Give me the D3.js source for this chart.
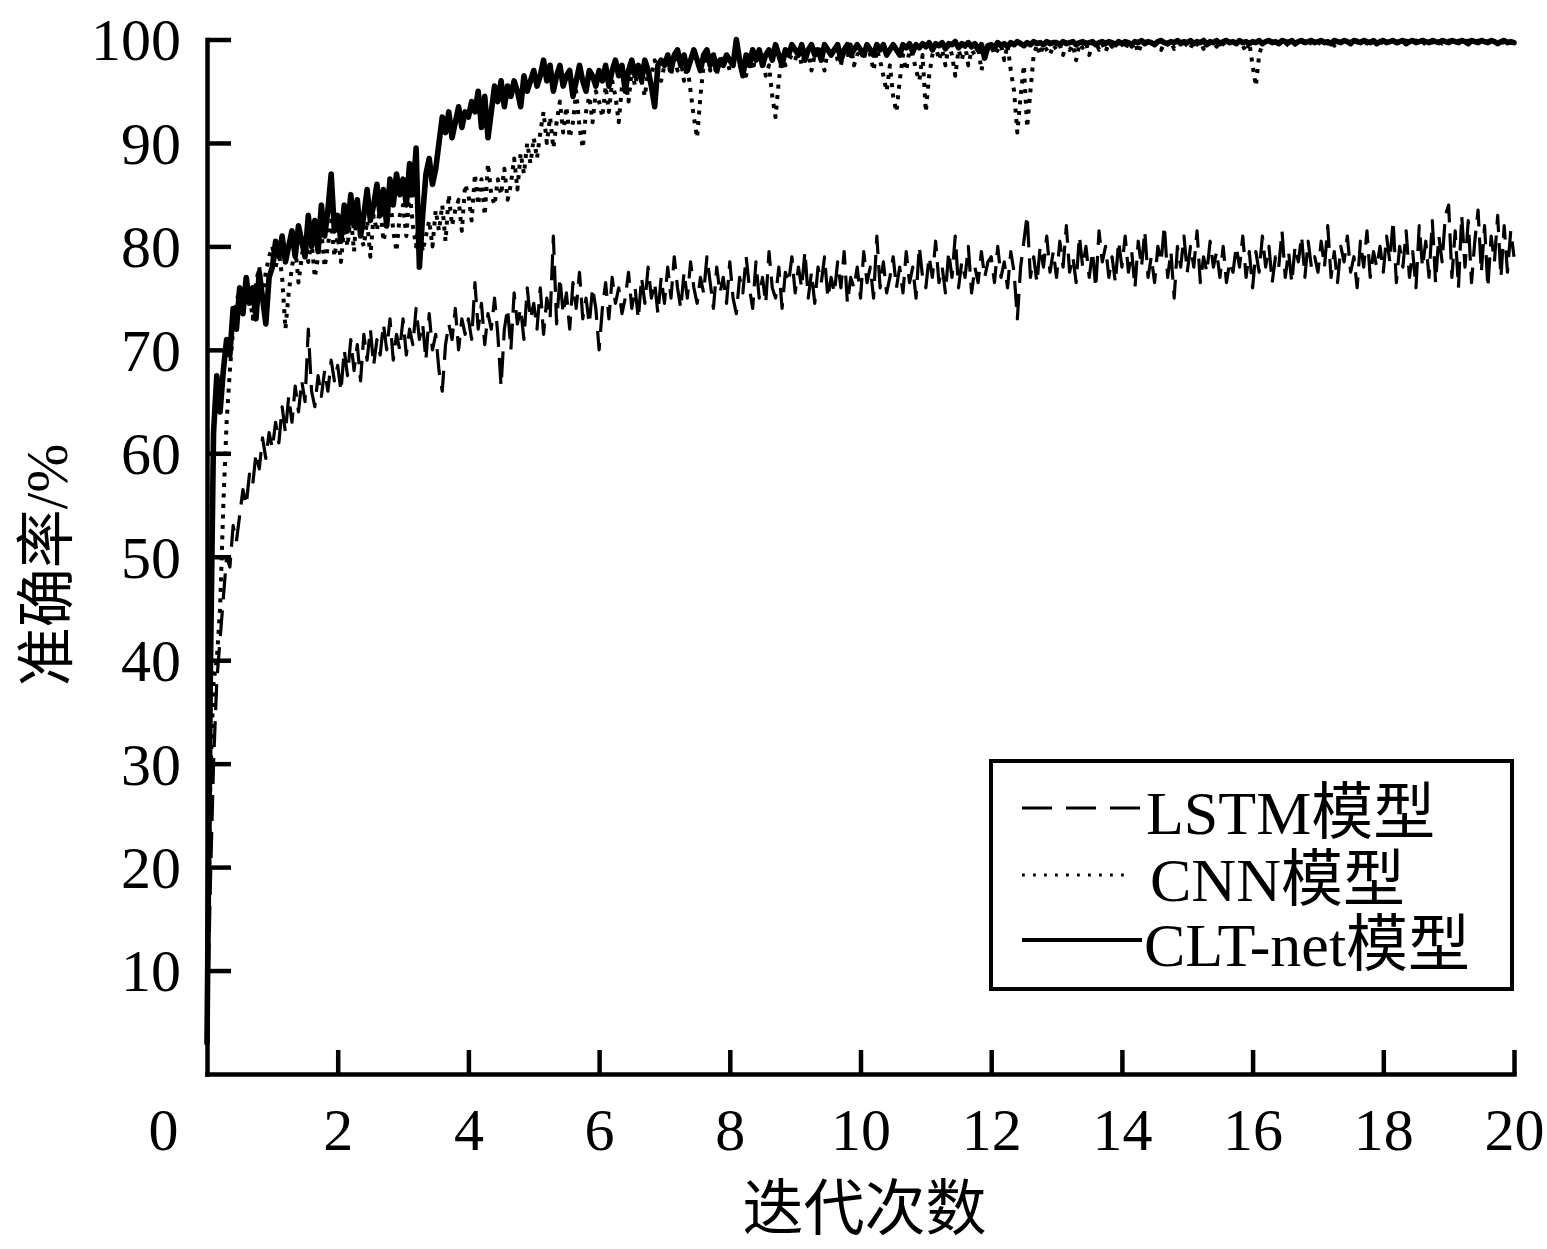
<!DOCTYPE html>
<html>
<head>
<meta charset="utf-8">
<script src="https://cdn.jsdelivr.net/npm/d3@7"></script>
<style>
  html, body { margin: 0; padding: 0; background: #fff; }
  svg { display: block; }
  text { font-family: "Liberation Serif", "Times New Roman", "Noto Sans CJK SC", serif; fill: #000; }
</style>
</head>
<body>
<svg id="chart" width="1547" height="1249"></svg>
<script>
// ---------------- data ----------------
const xStep = 0.05;                 // iterations between samples
const xTickValues = [0, 2, 4, 6, 8, 10, 12, 14, 16, 18, 20];
const yTickValues = [10, 20, 30, 40, 50, 60, 70, 80, 90, 100];
const seriesNames = ["LSTM模型", "CNN模型", "CLT-net模型"];
const xTitle = "迭代次数";
const yTitle = "准确率/%";

const lstmAcc = [
  3, 18, 30, 38, 42, 46, 50, 49, 53, 51.5, 54, 56.5, 55, 58, 57, 60, 58.5, 61.5, 59.5, 62,
  60.5, 63, 61, 64.5, 62, 65.5, 63, 66.5, 64, 67, 65, 72, 66, 64.5, 67.5, 65.5, 68, 66, 69, 67,
  68.5, 66, 70, 67.5, 71, 68, 70.5, 67, 71.5, 69, 72, 68.5, 71, 69.5, 72.5, 70, 73, 69, 71.5, 70,
  73, 69.5, 72, 70.5, 74, 71, 72.5, 69, 73.5, 70, 71.5, 68, 66, 70.5, 72.5, 71, 74, 70, 73, 71.5,
  73, 71, 76.5, 72, 74.5, 70.5, 73.5, 72, 75, 71.5, 66.5, 72, 74, 70, 75.5, 72.5, 74, 71, 76, 73,
  74.5, 72, 76, 71.5, 75, 73, 81, 72.5, 77, 73.5, 75.5, 72, 76.5, 74, 77.5, 73, 75, 72.5, 76, 74,
  70, 74, 76.5, 73, 77, 74.5, 76, 73.5, 75, 77.5, 74, 76, 73, 77, 74.5, 78, 75, 76.5, 73.5, 77,
  74.5, 78, 75, 79, 76, 74, 77.5, 75, 78.5, 76, 74.5, 77, 75.5, 79, 76.5, 74, 78, 75.5, 77, 74.5,
  78.5, 75, 73.5, 77, 75.5, 79, 76, 74, 78.5, 75, 77, 74.5, 79.5, 76, 75, 78, 74, 77.5, 76.5, 79,
  75.5, 78, 76, 79.5, 75, 77.5, 74.5, 78, 76.5, 79, 75, 77, 75.5, 78.5, 76, 79.5, 74.5, 77, 76, 78,
  75, 79.5, 76.5, 78, 75, 81, 76, 78.5, 75.5, 77, 79, 76, 78, 75.5, 79.5, 76.5, 78, 75, 80, 77,
  76, 79, 77, 80.5, 76.5, 78, 75.5, 79.5, 77, 81, 76, 78.5, 77, 80, 75.5, 78, 76.5, 79.5, 77, 78.5,
  79, 76.5, 80, 77, 78.5, 76, 79.5, 77.5, 73, 78, 80.5, 83, 77, 79, 76.5, 80, 78, 81, 77.5, 79.5,
  77, 80.5, 78, 82, 77.5, 79, 76.5, 81, 78, 80, 77, 79.5, 76, 81.5, 78.5, 80, 77, 79, 76.5, 80.5,
  78, 81, 77.5, 79.5, 76, 80.5, 78, 81.5, 77, 79, 76.5, 80, 78.5, 82, 77, 79.5, 75, 80, 78, 81,
  77.5, 80, 78, 81.5, 76.5, 79, 77.5, 80.5, 78, 79.5, 77, 80, 76.5, 78.5, 77.5, 80, 78, 81, 77, 79.5,
  76, 79.5, 77.5, 81, 78, 80, 76.5, 79, 78, 81.5, 77, 79.5, 76.5, 80, 78.5, 81, 77, 80.5, 78, 79,
  77.5, 80.5, 78, 82, 77, 79.5, 76.5, 80, 78.5, 81, 77.5, 79, 76, 80.5, 78, 81.5, 77, 79.5, 78, 80,
  77.5, 81, 78.5, 82.5, 76.5, 80, 78, 81.5, 77, 79.5, 76, 82, 78, 80.5, 77, 82.5, 76.5, 81, 78.5, 83,
  84, 77, 81.5, 76, 83, 78, 82.5, 76.5, 80.5, 83.5, 77.5, 82, 76, 81, 78.5, 83, 77, 82, 77.5, 81.5,
  79
];

const cnnAcc = [
  3, 28, 38, 40, 45, 55, 63, 68, 72, 74.5, 76, 74, 77, 75.5, 73, 76.5, 78, 75, 77.5, 79,
  80, 78, 79.5, 77, 72, 75.5, 78, 80, 76.5, 79, 81, 78.5, 80.5, 77, 79, 81.5, 78, 80, 82.5, 79,
  81, 78.5, 82, 80, 83, 79.5, 84.5, 81, 80, 82.5, 79, 83, 81.5, 84, 80.5, 82, 85, 81.5, 79.5, 83,
  84, 81, 85.5, 82, 80, 83, 79.5, 81, 82.5, 80, 83.5, 81.5, 84, 80.5, 85, 82, 83.5, 84.5, 81.5, 86,
  85, 82.5, 87, 84, 86.5, 83, 88, 85, 84, 86.5, 85, 87.5, 84.5, 86, 88.5, 85.5, 89, 87, 90, 88,
  90.5, 88.5, 91, 93, 90, 92.5, 89.5, 92, 94, 91, 93.5, 90.5, 92, 95, 91.5, 89.5, 93, 94.5, 92, 95,
  94, 92.5, 95.5, 93, 96, 94.5, 92, 95.5, 96.5, 94, 97, 95.5, 97.5, 96, 94.5, 97, 96.5, 98, 97, 96,
  97.5, 98, 96.5, 98.5, 97, 98, 96, 97.5, 95, 92.5, 90.5, 94.5, 97.5, 98.5, 97, 98, 96.5, 98.5, 97.5, 98,
  97, 98.5, 99, 97.5, 98, 96.5, 98.5, 97, 98.5, 99, 98, 96.5, 97.5, 94.5, 92.5, 96, 98.5, 97.5, 98, 98.5,
  98, 99, 97.5, 98.5, 99, 97, 98.5, 99.5, 98, 97, 99, 98.5, 99.5, 98, 97.5, 99, 98.5, 99.5, 97.5, 98.5,
  99, 98, 99.5, 98.5, 97, 99, 98, 96.5, 95, 97.5, 94.5, 93, 96, 98.5, 97, 99, 98.5, 97, 96, 98.5,
  93, 96.5, 98.5, 99.5, 98, 99, 97.5, 99.5, 98.5, 96.5, 99, 98, 99.5, 97.5, 99, 98.5, 99.5, 97, 98.5, 99,
  99.5, 98.5, 99, 99.5, 98, 99.5, 97, 95, 91, 94.5, 97.5, 91.5, 95, 98.5, 99.5, 98.5, 99.5, 99, 98.5, 99.5,
  99, 99.5, 98.5, 99.7, 99, 99.5, 98, 99.6, 99.2, 99.7, 98.5, 99.5, 99.8, 99, 99.6, 98.8, 99.7, 99.3, 99.8, 99.2,
  99.6, 99, 99.8, 99.3, 99.7, 98.7, 99.6, 99.8, 99.2, 99.7, 99.4, 99.8, 99, 99.7, 99.5, 99.8, 99.1, 99.6, 99.8, 99.3,
  99.7, 99.2, 99.8, 99.5, 99.8, 99.1, 99.7, 99.6, 99.8, 99.3, 99.8, 99.6, 99.2, 99.8, 99.5, 99.7, 99.8, 99.4, 98.8, 99.7,
  97.5, 95.5, 98.5, 99.6, 99.8, 99.4, 99.7, 99.8, 99.5, 99.8, 99.3, 99.7, 99.8, 99.5, 99.8, 99.6, 99.8, 99.4, 99.8, 99.7,
  99.8, 99.5, 99.8, 99.6, 99.9, 99.4, 99.8, 99.7, 99.9, 99.5, 99.8, 99.7, 99.9, 99.5, 99.8, 99.6, 99.9, 99.7, 99.8, 99.5,
  99.9, 99.6, 99.8, 99.7, 99.9, 99.5, 99.8, 99.9, 99.6, 99.8, 99.9, 99.7, 99.8, 99.5, 99.9, 99.7, 99.8, 99.9, 99.6, 99.8,
  99.9, 99.7, 99.8, 99.9, 99.6, 99.8, 99.9, 99.7, 99.8, 99.9, 99.5, 99.8, 99.9, 99.7, 99.8, 99.9, 99.6, 99.8, 99.9, 99.7,
  99.8
];

const cltAcc = [
  3, 38, 62, 67.5, 64, 68, 71, 69.5, 74, 72, 76, 73.5, 77, 74.5, 76, 73, 77.5, 75, 72.5, 77,
  78, 80.5, 79, 81, 78.5, 80, 81.5, 79, 82, 80.5, 79, 83, 80, 82.5, 79.5, 84, 81, 83.5, 87, 81.5,
  83, 80.5, 84, 81.5, 85, 82, 84.5, 81, 83, 85.5, 82.5, 84, 86, 83, 85.5, 82, 86.5, 84, 87, 85,
  86.5, 84, 88, 85, 89.5, 78, 83, 87, 88.5, 86, 87.5, 90, 92.5, 91, 93, 90.5, 92, 93.5, 91.5, 93,
  92.5, 94, 93, 95, 91.5, 94.5, 90.5, 93, 95.5, 94, 96, 93.5, 95.5, 94.5, 96, 95, 93.5, 96.5, 95, 96,
  97, 95.5, 96.5, 98, 96, 97.5, 95, 96.5, 97.5, 95.5, 96.5, 97, 94.5, 96, 97.5, 96, 95, 97, 96.5, 95.5,
  97, 96, 97.5, 95.5, 97, 98, 96.5, 97.5, 95, 97, 98, 96.5, 97.5, 96, 98, 97, 95.5, 93.5, 97.5, 98,
  97.5, 98.5, 97, 98.5, 99, 97.5, 98.5, 97, 98, 99, 98, 97, 98.5, 99, 97.5, 98.5, 97, 98, 97.5, 98.5,
  98, 97.5, 100, 98, 96.5, 98.5, 97.5, 99, 98, 99, 97.5, 98.5, 99, 98, 99.5, 98.5, 97.5, 99, 98.5, 99.5,
  99, 98.5, 99.5, 98, 99, 99.5, 98.5, 99, 98, 99.5, 99, 98.5, 99, 99.5, 98, 99, 99.5, 98.5, 99, 99.5,
  99, 98.5, 99.5, 99, 98.5, 99.5, 99, 99.5, 98.5, 99, 99.5, 99, 98.5, 99.5, 99.2, 99.6, 98.8, 99.5, 99.2, 99.6,
  99.3, 99.7, 99, 99.6, 99.4, 99.7, 99.1, 99.6, 99.5, 99.8, 99.2, 99.6, 99.4, 99.7, 99.3, 99.6, 99, 99.5, 98.2, 99.4,
  99.5, 99.2, 99.7, 99.4, 99.6, 99.3, 99.7, 99.5, 99.8, 99.6, 99.4, 99.7, 99.5, 99.8, 99.6, 99.7, 99.5, 99.8, 99.6, 99.7,
  99.7, 99.5, 99.8, 99.6, 99.7, 99.8, 99.5, 99.7, 99.8, 99.6, 99.7, 99.8, 99.5, 99.7, 99.8, 99.6, 99.8, 99.7, 99.5, 99.8,
  99.6, 99.8, 99.7, 99.5, 99.8, 99.7, 99.9, 99.6, 99.8, 99.7, 99.5, 99.8, 99.9, 99.7, 99.6, 99.8, 99.7, 99.9, 99.6, 99.8,
  99.7, 99.9, 99.6, 99.8, 99.7, 99.9, 99.5, 99.8, 99.7, 99.9, 99.6, 99.8, 99.9, 99.7, 99.8, 99.6, 99.9, 99.7, 99.8, 99.6,
  99.8, 99.7, 99.9, 99.6, 99.8, 99.9, 99.7, 99.8, 99.6, 99.9, 99.8, 99.7, 99.9, 99.6, 99.8, 99.9, 99.7, 99.8, 99.9, 99.7,
  99.8, 99.9, 99.7, 99.8, 99.6, 99.9, 99.8, 99.7, 99.9, 99.8, 99.6, 99.9, 99.8, 99.7, 99.9, 99.8, 99.7, 99.9, 99.6, 99.8,
  99.9, 99.7, 99.8, 99.9, 99.7, 99.8, 99.9, 99.6, 99.8, 99.9, 99.7, 99.8, 99.9, 99.8, 99.7, 99.9, 99.8, 99.7, 99.9, 99.8,
  99.7, 99.9, 99.8, 99.7, 99.9, 99.8, 99.6, 99.9, 99.8, 99.7, 99.9, 99.8, 99.7, 99.9, 99.8, 99.6, 99.8, 99.9, 99.7, 99.8,
  99.7
];

// ---------------- layout ----------------
const svg = d3.select("#chart");
const plot = { left: 207, right: 1514, top: 39.5, bottom: 1074 };
const x = d3.scaleLinear().domain([0, 20]).range([plot.left, plot.right]);
const y = d3.scaleLinear().domain([0, 100]).range([plot.bottom, plot.top]);

const styles = [
  { width: 3.2, dash: "26,11", cap: "butt" },
  { width: 4, dash: "4,6.5", cap: "butt" },
  { width: 5.6, dash: null, cap: "round" }
];
const seriesData = [lstmAcc, cnnAcc, cltAcc];

const line = d3.line()
  .x((d, i) => x(i * xStep))
  .y(d => y(d));

[0, 1, 2].forEach(k => {
  svg.append("path")
    .datum(seriesData[k])
    .attr("d", line)
    .attr("fill", "none")
    .attr("stroke", "#000")
    .attr("stroke-width", styles[k].width)
    .attr("stroke-linejoin", "round")
    .attr("stroke-linecap", styles[k].cap)
    .attr("stroke-dasharray", styles[k].dash);
});

// ---------------- axes ----------------
const fontSize = 60;
const yAxis = d3.axisLeft(y)
  .tickValues(yTickValues)
  .tickSizeInner(-24)
  .tickSizeOuter(0)
  .tickPadding(26)
  .tickFormat(d3.format("d"));
const gy = svg.append("g").attr("transform", `translate(${plot.left},0)`).call(yAxis);

const xAxis = d3.axisBottom(x)
  .tickValues(xTickValues)
  .tickSizeInner(-24)
  .tickSizeOuter(0)
  .tickPadding(33)
  .tickFormat(d3.format("d"));
const gx = svg.append("g").attr("transform", `translate(0,${plot.bottom})`).call(xAxis);

[gx, gy].forEach(g => {
  g.select(".domain").attr("stroke", "#000").attr("stroke-width", 4.5).attr("stroke-linecap", "square");
  g.selectAll(".tick line").attr("stroke", "#000").attr("stroke-width", 4.5);
  g.selectAll(".tick text")
    .attr("fill", "#000")
    .style("font-family", '"Liberation Serif", "Times New Roman", serif')
    .style("font-size", fontSize + "px");
});
gy.selectAll(".tick text").attr("dy", "0.34em");
// origin label sits to the lower-left of the corner
gx.selectAll(".tick").filter(d => d === 0).select("text").attr("dx", -44);
gx.selectAll(".tick").filter(d => d === 0).select("line").remove();

// axis titles
svg.append("text")
  .attr("x", (plot.left + plot.right) / 2 + 4)
  .attr("y", 1230)
  .attr("text-anchor", "middle")
  .style("font-family", '"Noto Sans CJK SC", sans-serif')
  .style("font-size", "61px")
  .text(xTitle);

svg.append("text")
  .attr("transform", `translate(67,565) rotate(-90)`)
  .attr("text-anchor", "middle")
  .style("font-size", "59px")
  .style("font-family", '"Liberation Serif", "Noto Sans CJK SC", serif')
  .text(yTitle);

// ---------------- legend ----------------
const legend = svg.append("g");
const lg = { x0: 991, y0: 761, x1: 1512, y1: 989 };
legend.append("rect")
  .attr("x", lg.x0).attr("y", lg.y0)
  .attr("width", lg.x1 - lg.x0).attr("height", lg.y1 - lg.y0)
  .attr("fill", "#fff").attr("stroke", "#000").attr("stroke-width", 4);

const rowY = [808, 875, 940];
const sampleEnd = [1142, 1125, 1142];
const textX = [1146, 1150, 1144];
seriesNames.forEach((name, k) => {
  legend.append("line")
    .attr("x1", 1022).attr("x2", sampleEnd[k])
    .attr("y1", rowY[k]).attr("y2", rowY[k])
    .attr("stroke", "#000")
    .attr("stroke-width", k === 2 ? 4 : 2.8)
    .attr("stroke-dasharray", k === 0 ? "30,14" : (k === 1 ? "2.8,8.2" : null));
  legend.append("text")
    .attr("x", textX[k])
    .attr("y", rowY[k] + 26)
    .style("font-size", "62px")
    .style("font-family", '"Liberation Serif", "Noto Sans CJK SC", serif')
    .text(name);
});
</script>
</body>
</html>
